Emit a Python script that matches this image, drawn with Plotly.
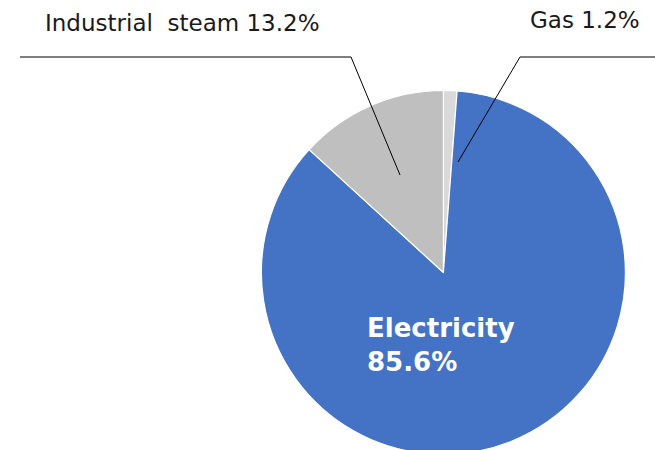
import plotly.graph_objects as go

labels = ["Gas", "Electricity", "Industrial  steam"]
values = [1.2, 85.6, 13.2]
colors = ["#D9D9D9", "#4472C4", "#BFBFBF"]

W, H = 655, 466
cx, cy, R = 443.4, 272.5, 182

def px(x):
    return x / W

def py(y):
    return 1 - y / H

fig = go.Figure(go.Pie(
    labels=labels, values=values, sort=False, direction="clockwise", rotation=0,
    marker=dict(colors=colors, line=dict(color="white", width=1.2)),
    textinfo="none", hoverinfo="label+percent", showlegend=False,
    domain=dict(x=[px(cx - R), px(cx + R)], y=[py(cy + R), py(cy - R)]),
))

font = "DejaVu Sans"
ann = []
ann.append(dict(x=px(43), y=py(23), xref="paper", yref="paper", xanchor="left", yanchor="middle",
                text=f"{labels[2]} {values[2]}%", showarrow=False,
                font=dict(family=font, size=23, color="#1a1a1a")))
ann.append(dict(x=px(528), y=py(20), xref="paper", yref="paper", xanchor="left", yanchor="middle",
                text=f"{labels[0]} {values[0]}%", showarrow=False,
                font=dict(family=font, size=23, color="#1a1a1a")))
ann.append(dict(x=px(365), y=py(345), xref="paper", yref="paper", xanchor="left", yanchor="middle",
                align="left", text=f"<b>{labels[1]}<br>{values[1]}%</b>", showarrow=False,
                font=dict(family=font, size=26, color="white")))

shapes = []
def seg(x0, y0, x1, y1):
    shapes.append(dict(type="line", xref="paper", yref="paper", x0=px(x0), y0=py(y0), x1=px(x1), y1=py(y1),
                       line=dict(color="black", width=1)))
seg(400, 175, 351, 57)
seg(351, 57, 20, 57)
seg(458, 162, 520, 57)
seg(520, 57, 655, 57)

fig.update_layout(width=W, height=H, margin=dict(l=0, r=0, t=0, b=0),
                  paper_bgcolor="white", plot_bgcolor="white",
                  annotations=ann, shapes=shapes)
fig.write_html("out.html",
               post_script="document.documentElement.style.overflow='hidden';document.body.style.overflow='hidden';document.body.style.margin='0';")
